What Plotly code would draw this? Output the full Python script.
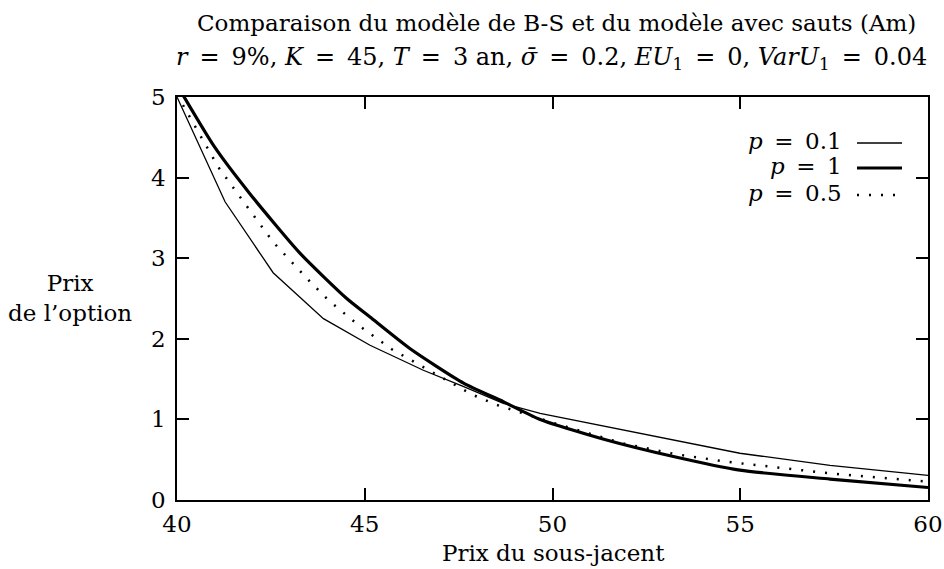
import plotly.graph_objects as go

# p = 0.1 (thin solid)
x_p01 = [40, 41.28, 42.56, 43.9, 45.14, 46.56, 47.62, 48.69, 49.67, 51.44, 53.22, 54.99, 57.39, 60]
y_p01 = [5.0, 3.70, 2.82, 2.25, 1.92, 1.61, 1.41, 1.20, 1.075, 0.91, 0.75, 0.58, 0.43, 0.305]

# p = 1 (thick solid)
x_p1 = [40, 41, 41.94, 43.28, 44.52, 45.14, 46.2, 47.63, 48.69, 49.67, 51.44, 53.22, 54.99, 57.39, 60]
y_p1 = [5.15, 4.38, 3.80, 3.06, 2.50, 2.27, 1.88, 1.45, 1.22, 1.00, 0.745, 0.54, 0.37, 0.26, 0.155]

# p = 0.5 (dotted)
x_p05 = [40, 40.39, 41.1, 41.93, 42.56, 43.54, 44.03, 44.83, 45.72, 47.85, 48.51, 50, 51.89, 53.26, 54.64, 57.39, 59.92, 60]
y_p05 = [5.03, 4.71, 4.13, 3.60, 3.20, 2.71, 2.48, 2.17, 1.87, 1.31, 1.18, 0.96, 0.70, 0.57, 0.475, 0.33, 0.23, 0.228]

x_ticks = [40, 45, 50, 55, 60]
y_ticks = [0, 1, 2, 3, 4, 5]

FONT = "DejaVu Serif"
FS = 23

fig = go.Figure()
fig.add_trace(go.Scatter(x=x_p01, y=y_p01, mode="lines", name="p = 0.1",
                         line=dict(color="black", width=1.3)))
fig.add_trace(go.Scatter(x=x_p1, y=y_p1, mode="lines", name="p = 1",
                         line=dict(color="black", width=3.2, shape="spline", smoothing=0.6)))
fig.add_trace(go.Scatter(x=x_p05, y=y_p05, mode="lines", name="p = 0.5",
                         line=dict(color="black", width=2.5, dash="2px,10px")))

axis_common = dict(showline=True, linecolor="black", linewidth=1.6, mirror="ticks",
                   ticks="inside", ticklen=12, tickwidth=1.6, tickcolor="black",
                   showgrid=False, zeroline=False, automargin=False,
                   tickfont=dict(family=FONT, size=FS, color="black"))

# plot area occupies x 177..928, y 97..500 of the 944x569 page
fig.update_layout(
    width=944, height=569,
    margin=dict(l=177, r=16, t=97, b=69),
    paper_bgcolor="white", plot_bgcolor="white",
    showlegend=False,
    font=dict(family=FONT, color="black"),
    xaxis=dict(range=[40, 60], tickvals=x_ticks, ticklabelstandoff=3, **axis_common),
    yaxis=dict(range=[0, 5], tickvals=y_ticks, ticklabelstandoff=5, **axis_common),
)

def py(pix):  # page pixel y -> paper y
    return (500 - pix) / 403.0
def px(pix):  # page pixel x -> paper x
    return (pix - 177) / 751.0

def label(text, xpix, ypix, size=FS, xanchor="center", align="center"):
    fig.add_annotation(text=text, x=px(xpix), y=py(ypix), xref="paper", yref="paper",
                       xanchor=xanchor, yanchor="middle", showarrow=False, align=align,
                       font=dict(size=size, family=FONT, color="black"))

E = "\u2002"
label("Comparaison du modèle de B-S et du modèle avec sauts (Am)", 556, 23)
line2 = (f"<i>r</i>{E}={E}9%, <i>K</i>{E}={E}45, <i>T</i>{E}={E}3 an, <i>σ̄</i>{E}={E}0.2, "
         f"<i>EU</i><sub>1</sub>{E}={E}0, <i>VarU</i><sub>1</sub>{E}={E}0.04")
label(line2, 551, 58, size=24)
label("Prix<br>de l’option", 70, 298)
label("Prix du sous-jacent", 553, 553)

# legend (gnuplot style: label then sample)
leg = [(f"<i>p</i>{E}={E}0.1", 1.3, "solid", 143),
       (f"<i>p</i>{E}={E}1", 3.2, "solid", 168),
       (f"<i>p</i>{E}={E}0.5", 2.5, "2px,10px", 195)]
for txt, w, d, ypix in leg:
    label(txt, 844, ypix - 2, xanchor="right")
    fig.add_shape(type="line", x0=px(857), x1=px(902), y0=py(ypix), y1=py(ypix),
                  xref="paper", yref="paper", line=dict(color="black", width=w, dash=d))

fig.write_html("out.html", config={"displayModeBar": False},
               post_script="document.body.style.margin='0';document.body.style.overflow='hidden';")
